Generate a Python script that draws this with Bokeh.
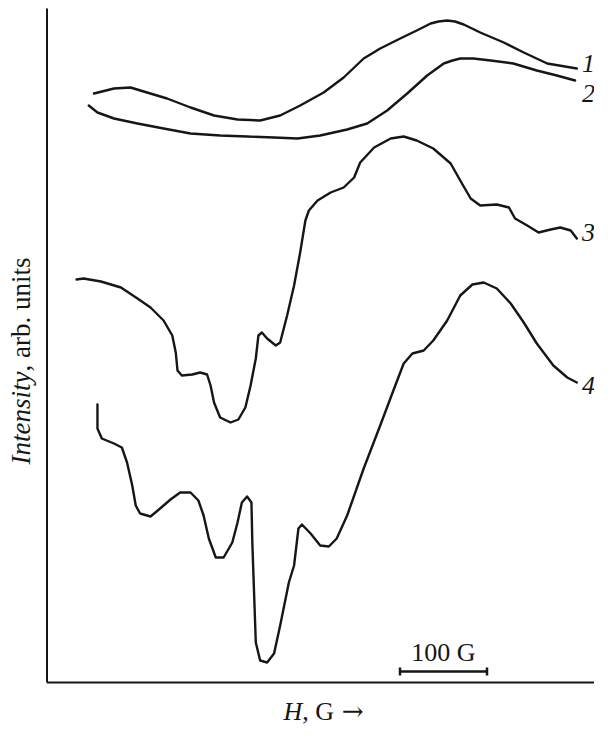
import math
from bokeh.plotting import figure
from bokeh.models import Label, Range1d
from bokeh.embed import file_html
from bokeh.resources import INLINE

# ---- data: magnetic field H (G) and intensity (arb. units) ----
curve1_H = [54, 77, 96, 115, 138, 165, 192, 219, 245, 268, 291, 318, 341, 364, 383, 406,
            425, 441, 450, 460, 469, 479, 498, 525, 548, 575, 609]
curve1_I = [589, 594, 595, 590, 584, 575, 567, 563, 562, 567, 577, 590, 605, 624, 634, 644,
            652, 659, 661, 662, 661, 658, 650, 640, 630, 619, 614]

curve2_H = [48, 58, 77, 104, 134, 165, 199, 230, 261, 288, 314, 345, 368, 391, 414, 437,
            456, 466, 475, 490, 510, 536, 563, 586, 607]
curve2_I = [577, 570, 564, 559, 554, 549, 547, 546, 545, 544, 547, 553, 559, 572, 589, 607,
            619, 622, 624, 624, 622, 619, 612, 607, 602]

curve3_H = [34, 42, 62, 85, 104, 119, 134, 144, 148, 150, 155, 167, 176, 184, 188, 192,
            199, 211, 220, 228, 234, 240, 243, 247, 253, 263, 268, 276, 284, 291, 297, 301,
            311, 326, 341, 353, 360, 376, 395, 410, 425, 444, 464, 475, 487, 498, 517, 531,
            538, 552, 565, 579, 590, 602, 609]
curve3_I = [403, 404, 401, 395, 384, 375, 362, 347, 330, 312, 307, 308, 310, 308, 297, 280,
            265, 260, 263, 275, 297, 324, 347, 350, 344, 337, 340, 367, 397, 430, 462, 472,
            482, 490, 495, 505, 520, 535, 544, 546, 542, 534, 519, 502, 484, 477, 478, 475,
            464, 457, 450, 453, 455, 452, 444]

curve4_H = [58, 58, 63, 77, 86, 92, 98, 102, 107, 119, 130, 142, 153, 165, 174, 180,
            186, 194, 203, 213, 219, 224, 230, 235, 236, 238, 240, 245, 253, 261, 268, 278,
            284, 289, 293, 303, 314, 324, 333, 345, 364, 383, 399, 410, 420, 433, 444, 460,
            475, 489, 502, 517, 533, 548, 563, 582, 598, 609]
curve4_I = [278, 254, 244, 239, 235, 220, 197, 177, 169, 166, 174, 183, 190, 190, 182, 167,
            144, 125, 125, 140, 160, 180, 186, 180, 140, 90, 40, 22, 20, 29, 57, 100,
            117, 154, 158, 149, 137, 136, 144, 167, 214, 257, 294, 319, 329, 332, 342, 362,
            387, 398, 400, 394, 379, 360, 339, 317, 305, 300]

curve_labels = ["1", "2", "3", "4"]
curve_label_I = [619, 589, 450, 297]

scale_bar_G = 100          # length of the field scale bar
scale_bar_text = "100 G"

# ---- geometry of the drawing (pixels) ----
W, HGT = 594, 727
X0_PX = 46.5               # pixel column of the intensity axis (H = 0)
Y0_PX = 682.0              # pixel row of the field axis (I = 0)
PX_PER_100G = 87.0
gx = 100.0 / PX_PER_100G   # G per pixel
INK = "#161616"
FONT = "Liberation Serif"
FS = 26
FS_Y = 27

def hx(px):   # pixel column -> H
    return (px - X0_PX) * gx

def iy(py):   # pixel row -> I
    return Y0_PX - py

p = figure(width=W, height=HGT,
           x_range=Range1d(hx(0), hx(W)), y_range=Range1d(iy(HGT), iy(0)),
           output_backend="svg", toolbar_location=None,
           x_axis_location=None, y_axis_location=None,
           min_border=0, min_border_left=0, min_border_right=0,
           min_border_top=0, min_border_bottom=0)
p.background_fill_color = "white"
p.border_fill_color = "white"
p.outline_line_color = None
p.grid.visible = False

# axis lines (no ticks in the original)
I_TOP = iy(8)
H_END = hx(W)
p.segment(x0=[0, 0], y0=[0, 0], x1=[0, H_END], y1=[I_TOP, 0],
          line_width=2, line_color=INK)

for Hs, Is in ((curve1_H, curve1_I), (curve2_H, curve2_I),
               (curve3_H, curve3_I), (curve4_H, curve4_I)):
    p.line(Hs, Is, line_width=2.4, line_color=INK, line_join="round", line_cap="round")

# curve labels
label_H = hx(588)
for t, yy in zip(curve_labels, curve_label_I):
    p.add_layout(Label(x=label_H, y=yy, text=t, text_font=FONT,
                       text_font_style="italic", text_font_size=f"{FS}px",
                       text_color=INK, text_align="center", text_baseline="middle"))

# scale bar
sb_x0 = hx(399.5)
sb_y = iy(671)
p.segment(x0=[sb_x0], y0=[sb_y], x1=[sb_x0 + scale_bar_G], y1=[sb_y],
          line_width=2.5, line_color=INK)
p.segment(x0=[sb_x0, sb_x0 + scale_bar_G], y0=[sb_y - 4, sb_y - 4],
          x1=[sb_x0, sb_x0 + scale_bar_G], y1=[sb_y + 4, sb_y + 4],
          line_width=2.5, line_color=INK)
p.add_layout(Label(x=sb_x0 + scale_bar_G / 2, y=iy(652), text=scale_bar_text,
                   text_font=FONT, text_font_size=f"{FS}px", text_color=INK,
                   text_align="center", text_baseline="middle"))

# x-axis label: italic H + ", G" + long arrow
xl_x = hx(283)
xl_y = iy(711)
p.add_layout(Label(x=xl_x, y=xl_y, text="H", text_font=FONT, text_font_style="italic",
                   text_font_size=f"{FS}px", text_color=INK,
                   text_align="left", text_baseline="middle"))
x2 = xl_x + 0.722 * FS * gx
p.add_layout(Label(x=x2, y=xl_y, text=", G", text_font=FONT,
                   text_font_size=f"{FS}px", text_color=INK,
                   text_align="left", text_baseline="middle"))
x3 = x2 + (0.25 + 0.25 + 0.722 + 0.3) * FS * gx
p.add_layout(Label(x=x3, y=xl_y + 1, text="\u2192", text_font="DejaVu Serif",
                   text_font_size=f"{FS}px", text_color=INK,
                   text_align="left", text_baseline="middle"))

# y-axis label: italic "Intensity" + ", arb. units", rotated
yl_x = hx(20)
yl_y = iy(464)
p.add_layout(Label(x=yl_x, y=yl_y, text="Intensity", angle=math.pi / 2,
                   text_font=FONT, text_font_style="italic", text_font_size=f"{FS_Y}px",
                   text_color=INK, text_align="left", text_baseline="middle"))
p.add_layout(Label(x=yl_x, y=yl_y + 3.444 * FS_Y, text=", arb. units", angle=math.pi / 2,
                   text_font=FONT, text_font_size=f"{FS_Y}px",
                   text_color=INK, text_align="left", text_baseline="middle"))

open("out.html", "w").write(file_html(p, INLINE))
